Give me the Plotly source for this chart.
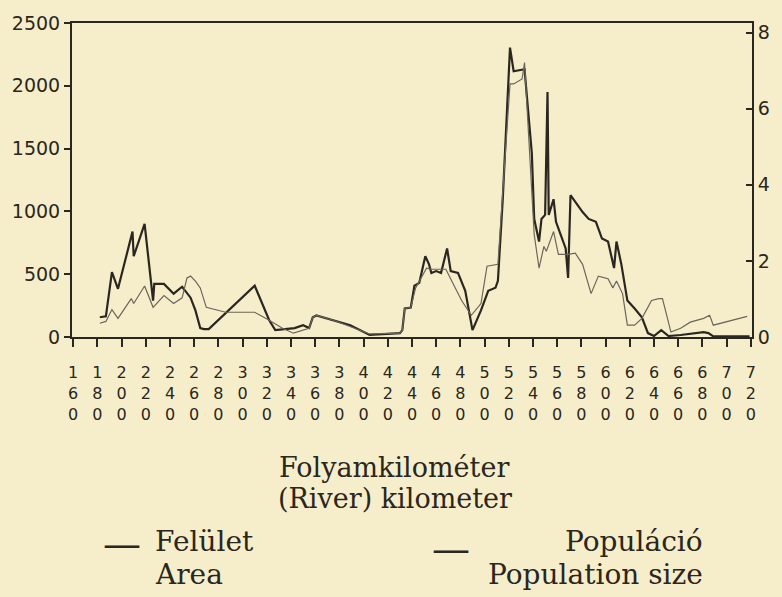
import plotly.graph_objects as go

# ---------------- data ----------------
area_km = [182, 187, 192, 197, 209, 210, 219, 224, 226, 227,
           235, 243, 250, 257, 261, 265, 268, 272, 310, 322,
           327, 343, 350, 355, 358, 361, 375, 389, 405, 430,
           432, 434, 439, 442, 446, 451, 454, 456, 460, 464,
           469, 472, 478, 484, 490, 497, 503, 509, 511, 515,
           521, 524, 533, 539, 541, 545, 547, 550, 552, 553,
           557, 559, 567, 569, 571, 575, 581, 586, 592, 597,
           602, 607, 609, 613, 618, 624, 630, 635, 640, 646,
           652, 662, 675, 681, 685, 689, 719]
area_val = [157, 165, 517, 384, 839, 643, 901, 431, 290, 423,
            423, 345, 400, 313, 212, 71, 63, 63, 408, 133,
            55, 71, 94, 71, 157, 172, 133, 94, 16, 31,
            55, 227, 235, 408, 431, 643, 580, 510, 525, 510,
            705, 525, 510, 368, 55, 212, 368, 392, 447, 1097,
            2304, 2116, 2132, 1466, 940, 760, 940, 972, 1951, 972,
            1097, 917, 705, 470, 1129, 1074, 995, 940, 917, 784,
            760, 549, 760, 580, 290, 227, 157, 31, 8, 55,
            8, 16, 31, 39, 31, 5, 5]

pop_km = [182, 187, 192, 197, 208, 210, 219, 226, 235, 243,
          250, 254, 257, 261, 265, 270, 286, 310, 322, 333,
          342, 355, 358, 361, 375, 392, 405, 430, 432, 434,
          439, 443, 452, 456, 468, 474, 481, 489, 497, 502,
          511, 521, 524, 531, 533, 541, 545, 549, 551, 557,
          561, 569, 575, 581, 588, 594, 602, 606, 609, 614,
          618, 624, 630, 638, 644, 647, 654, 662, 670, 681,
          686, 689, 717]
pop_val = [0.36, 0.41, 0.72, 0.49, 1.01, 0.88, 1.34, 0.78, 1.09, 0.88,
           1.03, 1.55, 1.60, 1.47, 1.29, 0.78, 0.65, 0.65, 0.44, 0.23,
           0.10, 0.23, 0.52, 0.57, 0.44, 0.23, 0.08, 0.10, 0.18, 0.75,
           0.78, 1.29, 1.81, 1.78, 1.78, 1.40, 0.96, 0.57, 0.88, 1.86,
           1.91, 6.65, 6.65, 6.78, 7.21, 2.69, 1.81, 2.38, 2.25, 2.77,
           2.17, 2.17, 2.20, 1.91, 1.14, 1.60, 1.53, 1.29, 1.47, 1.14,
           0.31, 0.31, 0.49, 0.96, 1.01, 1.01, 0.13, 0.23, 0.39, 0.49,
           0.57, 0.31, 0.54]

x_ticks = list(range(160, 721, 20))
x_tick_labels = ["<br>".join(str(v)) for v in x_ticks]
left_ticks = [0, 500, 1000, 1500, 2000, 2500]
right_ticks = [0, 2, 4, 6, 8]

# ---------------- styling ----------------
BG = "#f6eecb"
INK = "#2a2620"
SANS = "DejaVu Sans"
SERIF = "DejaVu Serif"

W, H = 782, 597
L, R, T, B = 68, 760, 18, 337   # plot area in pixels


def px_x(px):
    return (px - L) / (R - L)


def px_y(py):
    return (B - py) / (B - T)


fig = go.Figure()
fig.add_trace(go.Scatter(x=area_km, y=area_val, mode="lines",
                         line=dict(color=INK, width=2.2),
                         name="Felület / Area", yaxis="y"))
fig.add_trace(go.Scatter(x=pop_km, y=pop_val, mode="lines",
                         line=dict(color="#6b665a", width=1.2),
                         name="Populáció / Population size", yaxis="y2"))

fig.update_layout(
    width=W, height=H,
    margin=dict(l=L, r=W - R, t=T, b=H - B, pad=0),
    paper_bgcolor=BG, plot_bgcolor=BG,
    showlegend=False,
    font=dict(family=SANS, color=INK),
    xaxis=dict(range=[159, 721], tickmode="array", tickvals=x_ticks,
               ticktext=x_tick_labels, ticks="outside", ticklen=8,
               tickcolor=INK, tickwidth=1.5, showline=True, linecolor=INK,
               linewidth=2, mirror=True, showgrid=False, zeroline=False,
               tickfont=dict(family=SANS, size=16, color=INK),
               ticklabelstandoff=12),
    yaxis=dict(range=[0, 2500], tickmode="array", tickvals=left_ticks,
               ticks="outside", ticklen=6, tickcolor=INK, tickwidth=1.5,
               showline=True, linecolor=INK, linewidth=2,
               showgrid=False, zeroline=False,
               tickfont=dict(family=SANS, size=19, color=INK)),
    yaxis2=dict(range=[0, 8.25], overlaying="y", side="right",
                tickmode="array", tickvals=right_ticks,
                ticks="inside", ticklen=6, tickcolor=INK, tickwidth=1.5,
                showline=True, linecolor=INK, linewidth=2,
                showgrid=False, zeroline=False,
                tickfont=dict(family=SANS, size=19, color=INK)),
)


def text(s, px, py, size, anchor="center"):
    fig.add_annotation(text=s, x=px_x(px), y=px_y(py), xref="paper",
                       yref="paper", xanchor=anchor, yanchor="middle",
                       showarrow=False,
                       font=dict(family=SERIF, size=size, color=INK))


text("Folyamkilométer", 396, 470, 27)
text("(River) kilometer", 397, 501, 27)
text("—", 119, 547, 38)
text("Felület", 150, 545, 28, "left")
text("Area", 150, 578, 28, "left")
text("—", 454, 552, 38)
text("Populáció", 712, 545, 28, "right")
text("Population size", 712, 578, 28, "right")

fig.write_html("out.html",
               config={"displayModeBar": False},
               post_script="document.body.style.margin='0';"
                           "document.body.style.background='%s';" % BG)
